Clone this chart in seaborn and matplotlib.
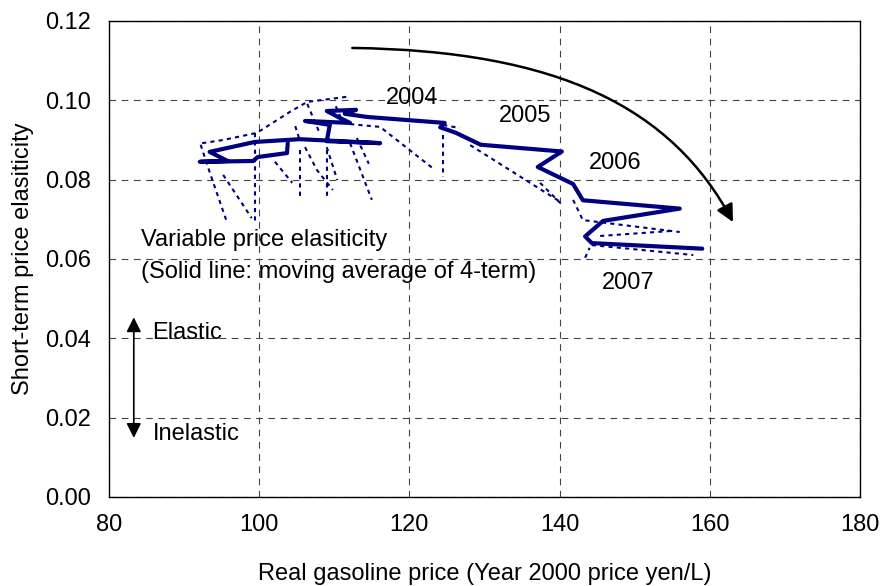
import numpy as np
import pandas as pd
import matplotlib
matplotlib.use("Agg")
import matplotlib.pyplot as plt
import seaborn as sns
from matplotlib.path import Path
from matplotlib.patches import FancyArrowPatch

# Moving average (4-term) of the variable price elasticity
ma_price = [103.8, 103.7, 99.8, 99.2, 92.1, 95.8, 93.4, 99.4, 105.4, 116.1,
            109.0, 109.4, 106.1, 112.1, 110.8, 109.0, 112.9, 111.4, 114.4,
            124.7, 124.1, 126.2, 129.5, 140.3, 137.1, 141.8, 143.1, 156.0,
            145.8, 143.4, 144.3, 159.0]
ma_elast = [0.0892, 0.0867, 0.0857, 0.0847, 0.0845, 0.0847, 0.0870, 0.0895,
            0.0902, 0.0892, 0.0897, 0.0938, 0.0948, 0.0943, 0.0955, 0.0973,
            0.0976, 0.0966, 0.0958, 0.0943, 0.0932, 0.0918, 0.0888, 0.0871,
            0.0832, 0.0789, 0.0748, 0.0727, 0.0696, 0.0657, 0.0640, 0.0626]

# Quarterly elasticity estimates (dotted segments)
raw_seg = [1, 1, 1, 1, 1, 1,
           2, 2, 2,
           3, 3,
           4, 4,
           5, 5,
           6, 6,
           7, 7, 7,
           8, 8,
           9, 9,
           10, 10,
           11, 11,
           12, 12,
           13, 13, 13,
           14, 14,
           15, 15,
           16, 16,
           17, 17,
           18, 18, 18,
           19, 19,
           20, 20,
           21, 21,
           22, 22,
           23, 23]
raw_price = [92.4, 95.2, 99.7, 104.1, 106.4, 111.7,
             92.2, 93.4, 95.7,
             95.2, 99.0,
             99.4, 99.4,
             102.1, 104.4,
             105.4, 105.4,
             106.1, 107.7, 109.8,
             109.0, 109.0,
             109.0, 110.4,
             112.1, 115.0,
             104.8, 105.4,
             106.4, 108.1,
             112.1, 116.1, 123.1,
             124.5, 124.5,
             124.5, 126.7,
             128.1, 140.1,
             137.4, 140.1,
             141.8, 143.1, 156.0,
             145.4, 155.1,
             144.3, 157.8,
             143.4, 144.0,
             113.0, 114.6,
             110.2, 111.0]
raw_elast = [0.0892, 0.0900, 0.0918, 0.0971, 0.0996, 0.1009,
             0.0888, 0.0819, 0.0693,
             0.0812, 0.0703,
             0.0918, 0.0693,
             0.0845, 0.0792,
             0.0875, 0.0756,
             0.0882, 0.0824, 0.0774,
             0.0875, 0.0756,
             0.0882, 0.0799,
             0.0892, 0.0749,
             0.0935, 0.0899,
             0.0991, 0.0915,
             0.0940, 0.0933, 0.0829,
             0.0913, 0.0807,
             0.0938, 0.0930,
             0.0887, 0.0744,
             0.0792, 0.0741,
             0.0749, 0.0698, 0.0668,
             0.0658, 0.0671,
             0.0635, 0.0610,
             0.0603, 0.0628,
             0.0905, 0.0840,
             0.0985, 0.0950]

year_labels = ["2004", "2005", "2006", "2007"]
year_x = [120.3, 135.4, 147.4, 149.1]
year_y = [0.1006, 0.0961, 0.0842, 0.0539]

x_ticks = [80, 100, 120, 140, 160, 180]
y_ticks = [0.00, 0.02, 0.04, 0.06, 0.08, 0.10, 0.12]

sns.set_theme(style="white")
plt.rcParams["font.family"] = ["Liberation Sans", "DejaVu Sans"]
plt.rcParams["text.color"] = "black"
plt.rcParams["axes.labelcolor"] = "black"
plt.rcParams["xtick.color"] = "black"
plt.rcParams["ytick.color"] = "black"

FS = 17
navy = "#000080"

fig = plt.figure(figsize=(8.82, 5.86), dpi=100)
ax = fig.add_axes([0.1236, 0.1519, 0.975 - 0.1236, 0.9642 - 0.1519])

raw_df = pd.DataFrame({"seg": raw_seg, "price": raw_price, "elast": raw_elast})
sns.lineplot(data=raw_df, x="price", y="elast", units="seg", estimator=None,
             sort=False, color=navy, lw=1.5, linestyle=(0, (2, 2)), ax=ax)

ma_df = pd.DataFrame({"price": ma_price, "elast": ma_elast})
sns.lineplot(data=ma_df, x="price", y="elast", estimator=None, sort=False,
             color=navy, lw=3.0, ax=ax)

ax.set_xlim(80, 180)
ax.set_ylim(0, 0.12)
ax.set_xticks(x_ticks)
ax.set_yticks(y_ticks)
ax.set_xticklabels([str(v) for v in x_ticks], fontsize=FS)
ax.set_yticklabels([f"{v:.2f}" for v in y_ticks], fontsize=FS)
ax.tick_params(axis="both", direction="in", length=5, width=0.8,
               color="black")
ax.tick_params(axis="x", pad=12)
ax.tick_params(axis="y", pad=13)
ax.grid(True, color="#444444", lw=0.8, linestyle=(0, (6, 5)))
for s in ax.spines.values():
    s.set_visible(True)
    s.set_color("black")
    s.set_linewidth(1.0)

ax.set_xlabel("Real gasoline price (Year 2000 price yen/L)", fontsize=FS,
              labelpad=20)
ax.set_ylabel("Short-term price elasiticity", fontsize=FS, labelpad=8)

for lab, xv, yv in zip(year_labels, year_x, year_y):
    ax.text(xv, yv, lab, fontsize=FS, ha="center", va="center")

ax.text(84.2, 0.0648, "Variable price elasiticity", fontsize=FS,
        ha="left", va="center")
ax.text(84.2, 0.0568, "(Solid line: moving average of 4-term)", fontsize=FS,
        ha="left", va="center")

# Elastic / Inelastic indicator
ax.annotate("", xy=(83.3, 0.0453), xytext=(83.3, 0.0149),
            arrowprops=dict(arrowstyle="<|-|>", color="black", lw=1.2,
                            mutation_scale=22, shrinkA=0, shrinkB=0))
ax.text(85.8, 0.0413, "Elastic", fontsize=FS, ha="left", va="center")
ax.text(85.8, 0.0160, "Inelastic", fontsize=FS, ha="left", va="center")

# Trend arrow
trend = Path([(112.4, 0.1132), (140.0, 0.1125), (155.0, 0.0980), (163.1, 0.0693)],
             [Path.MOVETO, Path.CURVE4, Path.CURVE4, Path.CURVE4])
arrow = FancyArrowPatch(path=trend, arrowstyle="-|>", color="black", lw=1.8,
                        mutation_scale=26, transform=ax.transData)
ax.add_patch(arrow)

fig.savefig("out.png", dpi=100)
